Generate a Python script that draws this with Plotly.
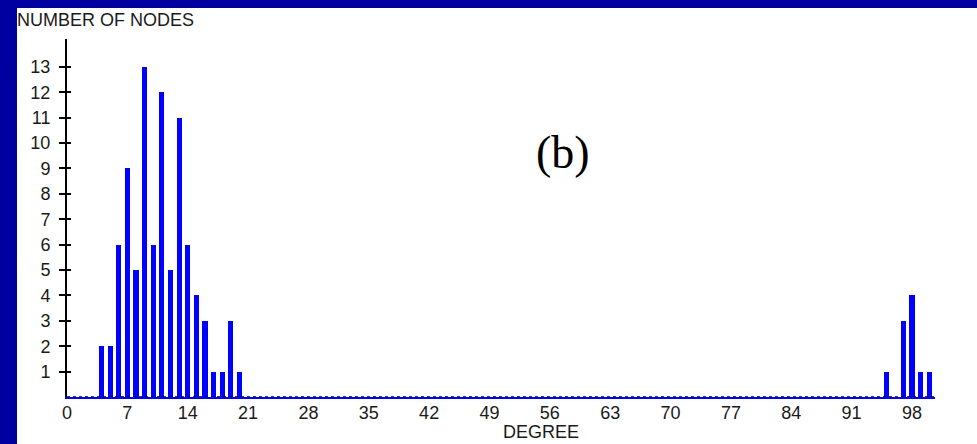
import plotly.graph_objects as go

# Data
degrees = [4, 5, 6, 7, 8, 9, 10, 11, 12, 13, 14, 15, 16, 17, 18, 19, 20,
           95, 97, 98, 99, 100]
num_nodes = [2, 2, 6, 9, 5, 13, 6, 12, 5, 11, 6, 4, 3, 1, 1, 3, 1,
             1, 3, 4, 1, 1]
x_ticks = list(range(0, 99, 7))
y_ticks = list(range(1, 14))

BG_BLUE = "#0000A0"
BAR_BLUE = "#0000FF"
W, H = 977, 444
L, R, T, B = 67, 42, 39, 47
PW, PH = W - L - R, H - T - B

def px_x(px):
    return (px - L) / PW

def px_y(py):
    return (H - B - py) / PH

tick_font = dict(family="Liberation Sans Narrow, Liberation Sans, Arial", size=18, color="#1a1a1a")

fig = go.Figure()
fig.add_trace(go.Bar(x=degrees, y=num_nodes, width=0.6,
                     marker=dict(color=BAR_BLUE, line=dict(width=0)),
                     showlegend=False))
# helper trace so the overlay axis (inner tick halves) is drawn
fig.add_trace(go.Scatter(x=[0], y=[0], yaxis="y2", mode="markers",
                         marker=dict(opacity=0), showlegend=False, hoverinfo="skip"))

fig.update_layout(
    width=W, height=H,
    margin=dict(l=L, r=R, t=T, b=B),
    paper_bgcolor=BG_BLUE,
    plot_bgcolor="white",
    bargap=0,
    xaxis=dict(range=[0, 100.67], tickvals=x_ticks, ticktext=[str(v) for v in x_ticks],
               showgrid=False, zeroline=False, showline=True, linecolor=BAR_BLUE,
               linewidth=2, ticks="", tickfont=tick_font, ticklabelstandoff=-2,
               fixedrange=True),
    yaxis=dict(range=[0, 14.1], tickvals=y_ticks, showgrid=False, zeroline=False,
               showline=True, linecolor="black", linewidth=2, ticks="outside",
               ticklen=6, tickwidth=2, tickcolor="black", tickfont=tick_font,
               ticklabelstandoff=5, fixedrange=True),
    yaxis2=dict(range=[0, 14.1], tickvals=y_ticks, overlaying="y", side="left",
                showgrid=False, zeroline=False, showline=False, ticks="inside",
                ticklen=4, tickwidth=2, tickcolor="black", showticklabels=False,
                fixedrange=True),
    shapes=[
        dict(type="rect", xref="paper", yref="paper", layer="below",
             x0=px_x(17), x1=px_x(980), y0=px_y(447), y1=px_y(8),
             fillcolor="white", line=dict(width=0)),
        dict(type="line", xref="paper", yref="y", x0=0, x1=1, y0=0, y1=0,
             line=dict(color="black", width=1.5, dash="3px,3px")),
    ],
    annotations=[
        dict(text="NUMBER OF NODES", xref="paper", yref="paper",
             x=px_x(15), y=px_y(20), xanchor="left", yanchor="middle",
             showarrow=False, font=tick_font),
        dict(text="DEGREE", xref="paper", yref="paper",
             x=px_x(541), y=px_y(432), xanchor="center", yanchor="middle",
             showarrow=False, font=tick_font),
        dict(text="(b)", xref="paper", yref="paper",
             x=px_x(563), y=px_y(152), xanchor="center", yanchor="middle",
             showarrow=False,
             font=dict(family="Liberation Serif, Times New Roman, serif", size=46, color="black")),
    ],
)

fig.write_html("out.html")
